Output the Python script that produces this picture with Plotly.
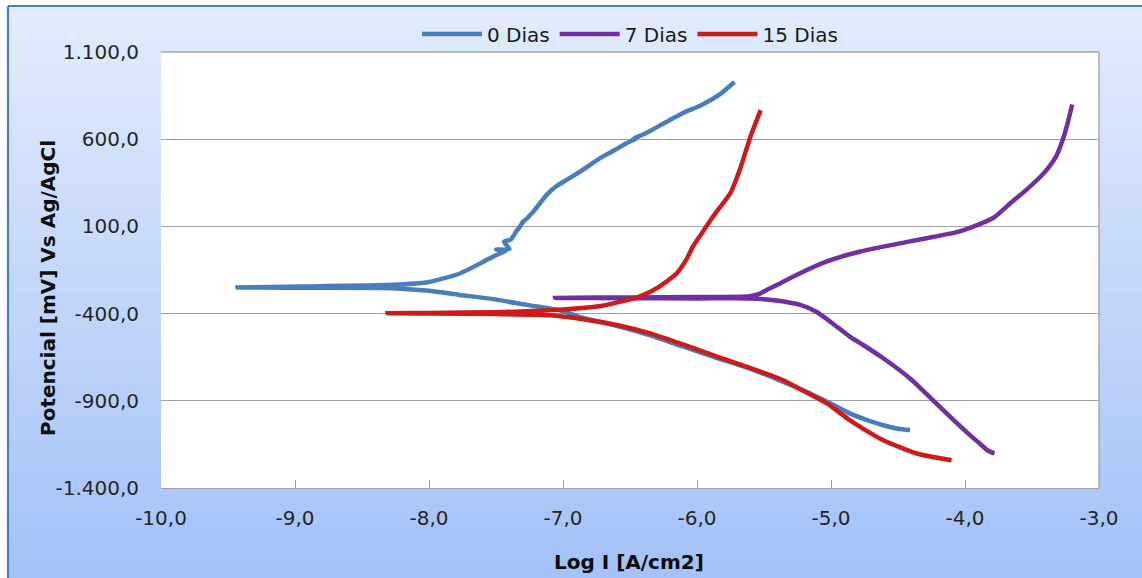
import plotly.graph_objects as go

# Potentiodynamic polarization curves (log current density vs potential)
# Each series is ordered along the potential scan: cathodic end -> Ecorr -> anodic end.

logi_0d = [-4.41, -4.50, -4.61, -4.75, -4.86, -4.98, -5.10, -5.36, -5.60, -5.85, -6.10,
           -6.35, -6.60, -6.85, -7.02, -7.27, -7.52, -7.77, -8.02, -8.27, -8.96, -9.43,
           -8.96, -8.27, -8.02, -7.77, -7.60, -7.50, -7.43, -7.50, -7.40, -7.44, -7.39,
           -7.37, -7.35, -7.32, -7.30, -7.27, -7.22, -7.17, -7.12, -7.05, -6.97, -6.85,
           -6.72, -6.62, -6.53, -6.45, -6.48, -6.40, -6.33, -6.10, -5.98, -5.83, -5.72]
pot_0d = [-1068, -1060, -1040, -1005, -972, -924, -878, -790, -717, -655, -590,
          -525, -470, -425, -382, -350, -317, -293, -268, -254, -252, -250,
          -245, -235, -222, -170, -105, -65, -40, -33, -30, 12, 24,
          45, 70, 100, 125, 145, 186, 234, 282, 330, 368, 426,
          493, 535, 575, 605, 600, 628, 656, 752, 790, 857, 928]

logi_7d = [-3.78, -3.83, -3.89, -3.99, -4.11, -4.24, -4.41, -4.61, -4.76, -4.86, -4.99,
           -5.11, -5.23, -5.41, -5.61, -6.00, -6.50, -7.06,
           -6.50, -6.00, -5.61, -5.53, -5.48, -5.40, -5.28, -5.03, -4.78, -4.41, -4.04,
           -3.79, -3.66, -3.54, -3.41, -3.32, -3.27, -3.24, -3.20]
pot_7d = [-1202, -1185, -1145, -1078, -992, -896, -772, -656, -580, -532, -455,
          -389, -350, -325, -313, -313, -312, -310,
          -307, -305, -300, -285, -264, -235, -187, -101, -44, 14, 71,
          148, 234, 311, 407, 502, 598, 675, 799]

logi_15d = [-4.10, -4.36, -4.61, -4.75, -4.86, -5.03, -5.20, -5.36, -5.60, -5.85, -6.10,
            -6.35, -6.60, -6.85, -7.10, -7.50, -8.00, -8.31,
            -8.00, -7.50, -7.10, -6.72, -6.43, -6.28, -6.15, -6.08, -6.03, -5.98, -5.88,
            -5.75, -5.68, -5.60, -5.525]
pot_15d = [-1241, -1202, -1126, -1065, -1011, -915, -845, -781, -712, -647, -578,
           -513, -465, -432, -410, -403, -400, -398,
           -396, -392, -381, -356, -302, -245, -168, -91, -15, 43, 157,
           292, 426, 617, 767]

series_names = ["0 Dias", "7 Dias", "15 Dias"]
series_colors = ["#4a7ebb", "#7030a0", "#cc1b1b"]

x_ticks = [-10, -9, -8, -7, -6, -5, -4, -3]
y_ticks = [-1400, -900, -400, 100, 600, 1100]


def fmt_pt(v):
    """Number with '.' as thousands separator and ',' as decimal mark."""
    s = f"{abs(v):,.1f}".replace(",", "X").replace(".", ",").replace("X", ".")
    return ("-" if v < 0 else "") + s


W, H = 1142, 578
L, R, T, B = 161, 43, 52, 90
PW, PH = W - L - R, H - T - B


def px_x(px):
    return (px - L) / PW


def px_y(py):
    return (H - B - py) / PH


fig = go.Figure()
for xs, ys, name, col in zip([logi_0d, logi_7d, logi_15d], [pot_0d, pot_7d, pot_15d],
                             series_names, series_colors):
    fig.add_trace(go.Scatter(x=xs, y=ys, name=name, mode="lines",
                             line=dict(color=col, width=4.5, shape="spline", smoothing=0.6)))

# Chart-area background: vertical gradient built from thin bands
shapes = []
top_rgb = (226, 236, 252)
bot_rgb = (163, 193, 247)
y0_px, y1_px = 6, H + 2
n_bands = 120
step = (y1_px - y0_px) / n_bands
for i in range(n_bands):
    t = (i + 0.5) / n_bands
    c = tuple(round(a + (b - a) * t) for a, b in zip(top_rgb, bot_rgb))
    shapes.append(dict(type="rect", xref="paper", yref="paper", layer="below",
                       x0=px_x(8), x1=px_x(W + 2),
                       y0=px_y(y0_px + i * step), y1=px_y(y0_px + (i + 1) * step + 0.6),
                       line=dict(width=0), fillcolor=f"rgb{c}"))
# white plot area
shapes.append(dict(type="rect", xref="paper", yref="paper", layer="below",
                   x0=0, x1=1, y0=0, y1=1, line=dict(width=0), fillcolor="white"))
# outer frame (top and left edges)
shapes.append(dict(type="line", xref="paper", yref="paper", layer="above",
                   x0=px_x(8), x1=px_x(W + 2), y0=px_y(6), y1=px_y(6),
                   line=dict(color="#4a7ebb", width=2.2)))
shapes.append(dict(type="line", xref="paper", yref="paper", layer="above",
                   x0=px_x(8), x1=px_x(8), y0=px_y(6), y1=px_y(H + 2),
                   line=dict(color="#4a7ebb", width=2.2)))
# plot-area border on top and right
shapes.append(dict(type="line", xref="paper", yref="paper", layer="below",
                   x0=0, x1=1, y0=1, y1=1, line=dict(color="#a0a0a0", width=1.3)))
shapes.append(dict(type="line", xref="paper", yref="paper", layer="below",
                   x0=1, x1=1, y0=0, y1=1, line=dict(color="#a0a0a0", width=1.3)))

font_family = "DejaVu Sans"

fig.update_layout(
    width=W, height=H, autosize=False,
    margin=dict(l=L, r=R, t=T, b=B, pad=0),
    paper_bgcolor="white", plot_bgcolor="white",
    shapes=shapes,
    font=dict(family=font_family, size=20, color="#262626"),
    showlegend=True,
    legend=dict(orientation="h", x=0.5, xanchor="center", y=px_y(34), yanchor="middle",
                bgcolor="rgba(0,0,0,0)", font=dict(size=20, color="#1a1a1a"),
                itemwidth=60, tracegroupgap=0),
    xaxis=dict(range=[-10, -3], tickvals=x_ticks, ticktext=[fmt_pt(v) for v in x_ticks],
               showgrid=False, zeroline=False, showline=True, linecolor="#a0a0a0", linewidth=1.3,
               ticks="inside", ticklen=8, tickcolor="#a0a0a0", tickwidth=1.3,
               ticklabelstandoff=12, tickfont=dict(size=20, color="#262626")),
    yaxis=dict(range=[-1400, 1100], tickvals=y_ticks, ticktext=[fmt_pt(v) for v in y_ticks],
               showgrid=True, gridcolor="#a0a0a0", gridwidth=1.3, zeroline=False,
               showline=False, ticks="", ticklabelstandoff=21,
               tickfont=dict(size=20, color="#262626")),
    annotations=[
        dict(text="<b>Log I [A/cm2]</b>", xref="paper", yref="paper",
             x=px_x(629), y=px_y(562), xanchor="center", yanchor="middle", showarrow=False,
             font=dict(family=font_family, size=20, color="#0d0d0d")),
        dict(text="<b>Potencial [mV] Vs Ag/AgCl</b>", xref="paper", yref="paper",
             x=px_x(48), y=px_y(288), xanchor="center", yanchor="middle", showarrow=False,
             textangle=-90, font=dict(family=font_family, size=20, color="#0d0d0d")),
    ],
)

fig.write_html("out.html")
